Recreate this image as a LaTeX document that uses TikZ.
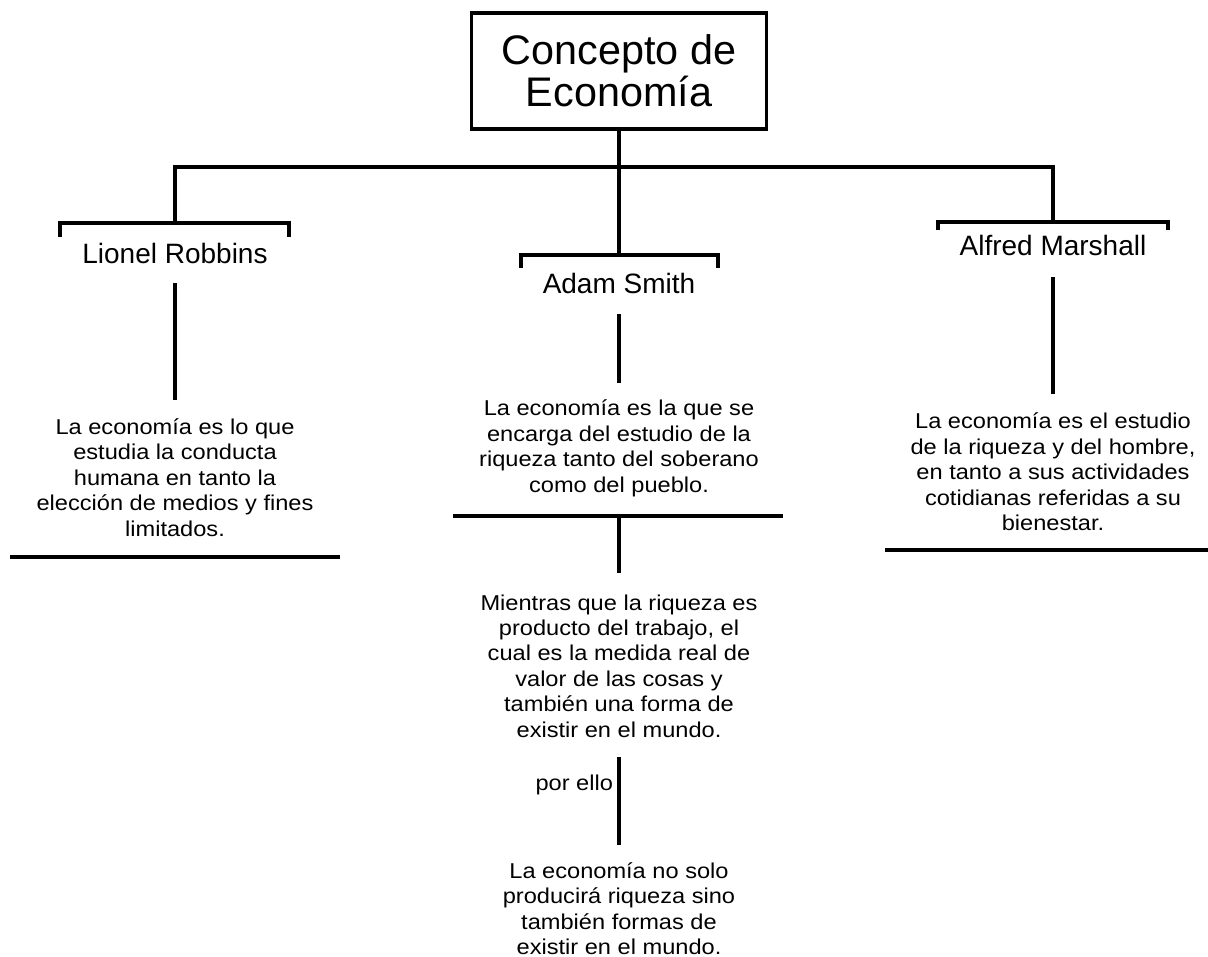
\documentclass[tikz,border=0pt]{standalone}
\usepackage{fontspec}
\setmainfont{Liberation Sans}
\newfontfamily\bodyfont[FakeStretch=1.1]{Liberation Sans}
\usepackage{tikz}
\usetikzlibrary{calc}
\tikzset{>=latex}
\tikzset{
  conn/.style = {line width = 2.4pt},
  titlebox/.style = {draw, line width = 2.4pt, minimum width = 221pt, minimum height = 87pt, align = center, font = \fontsize{31}{31.5}\selectfont},
  person/.style = {font = \fontsize{21}{25}\selectfont},
  defn/.style = {align = center, font = \bodyfont\fontsize{16.1}{19.1}\selectfont}
}

\begin{document}
\begin{tikzpicture}[x = 0.75pt, y = -0.75pt]
\useasboundingbox (0,0) rectangle (1208,957);

\node[titlebox] (title) at (619,71) {Concepto de\\Econom\'ia};

\node[person] (robbins) at (175,253) {Lionel Robbins};
\node[person] (smith) at (619,283) {Adam Smith};
\node[person] (marshall) at (1053,245) {Alfred Marshall};

\node[defn] (defRobbins) at (175,477.5) {La econom\'ia es lo que\\estudia la conducta\\humana en tanto la\\elecci\'on de medios y fines\\limitados.};
\node[defn] (defSmith) at (619,448.5) {La econom\'ia es la que se\\encarga del estudio de la\\riqueza tanto del soberano\\como del pueblo.};
\node[defn] (defMarshall) at (1053,472) {La econom\'ia es el estudio\\de la riqueza y del hombre,\\en tanto a sus actividades\\cotidianas referidas a su\\bienestar.};
\node[defn] (riqueza) at (619,666) {Mientras que la riqueza es\\producto del trabajo, el\\cual es la medida real de\\valor de las cosas y\\tambi\'en una forma de\\existir en el mundo.};
\node[defn] (conclusion) at (619,908.5) {La econom\'ia no solo\\producir\'a riqueza sino\\tambi\'en formas de\\existir en el mundo.};

% tree
\coordinate (bus) at (619,167);
\coordinate (brL) at (175,223);
\coordinate (brM) at (619,255);
\coordinate (brR) at (1053,222);
\draw[conn] (title.south) -- (bus);
\draw[conn] (brL) |- (bus) -| (brR);
\draw[conn] (bus) -- (brM);

% brackets
\draw[conn] (brL) ++(-115,14) |- ++(229,-14) -- ++(0,14);
\draw[conn] (brM) ++(-98,13) |- ++(197,-13) -- ++(0,13);
\draw[conn] (brR) ++(-115,8) |- ++(230,-8) -- ++(0,8);

\draw[conn, shorten <= 22.5pt, shorten >= 58.1pt] (robbins.center) -- (defRobbins.center);
\draw[conn, shorten <= 23.25pt, shorten >= 49.1pt] (smith.center) -- (defSmith.center);
\draw[conn, shorten <= 24pt, shorten >= 58.5pt] (marshall.center) -- (defMarshall.center);

% rules under the definitions
\draw[conn] (10,557) -- (340,557);
\draw[conn] (885,550) -- (1208,550);
\draw[conn] (453,516) -- (783,516);

\draw[conn, shorten <= 50.6pt, shorten >= 69.8pt] (defSmith.center) -- (riqueza.center);
\draw[conn, shorten <= 68.3pt, shorten >= 47.6pt] (riqueza.center) -- node[defn, pos = 0.49, left] (porello) {por ello} (conclusion.center);

\end{tikzpicture}
\end{document}
